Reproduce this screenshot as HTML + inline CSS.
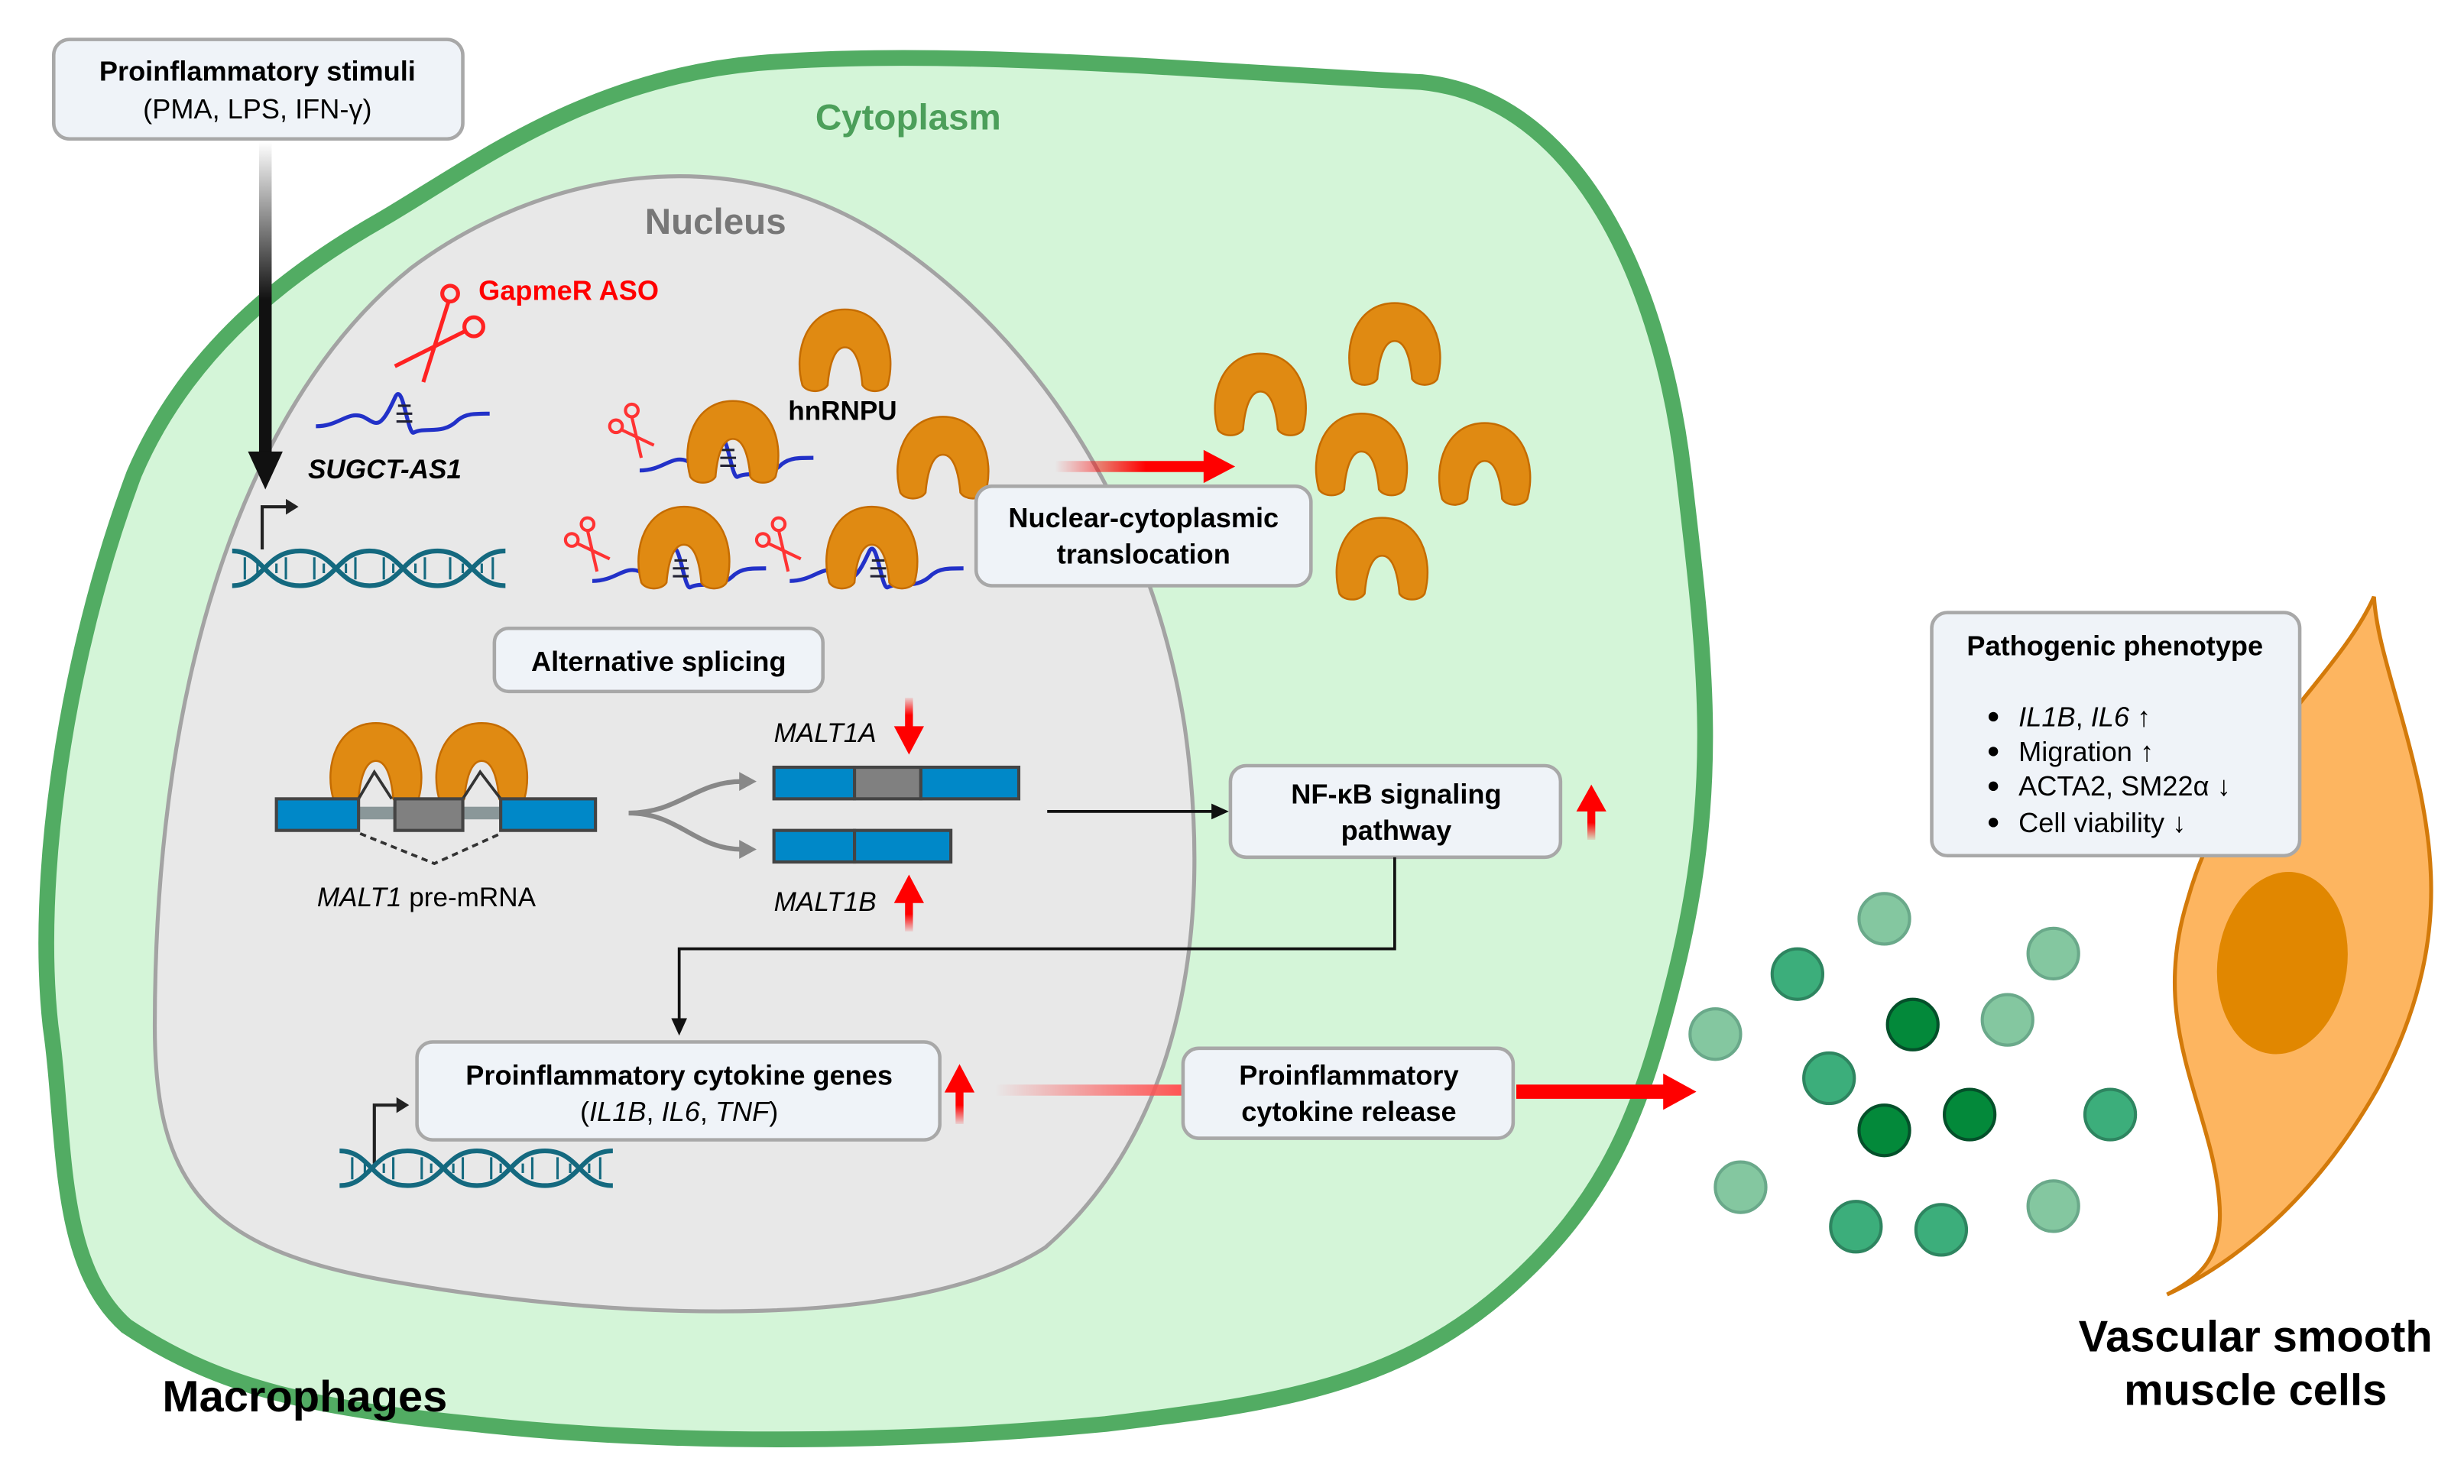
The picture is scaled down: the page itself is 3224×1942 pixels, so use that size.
<!DOCTYPE html>
<html><head><meta charset="utf-8"><style>
html,body{margin:0;padding:0;background:#fff;}
svg{display:block;}
text{font-family:"Liberation Sans",sans-serif;}
</style></head><body>
<svg width="3224" height="1942" viewBox="0 0 1560 940" preserveAspectRatio="none" xmlns="http://www.w3.org/2000/svg">
<defs>
<linearGradient id="gv" x1="0" y1="0" x2="0" y2="1"><stop offset="0" stop-color="#fff"/><stop offset="0.5" stop-color="#111"/><stop offset="1" stop-color="#111"/></linearGradient>
<linearGradient id="gr" x1="0" y1="0" x2="1" y2="0"><stop offset="0" stop-color="#f00" stop-opacity="0"/><stop offset="0.6" stop-color="#f00"/><stop offset="1" stop-color="#f00"/></linearGradient>
<linearGradient id="gr2" x1="0" y1="0" x2="1" y2="0"><stop offset="0" stop-color="#f44" stop-opacity="0"/><stop offset="1" stop-color="#f55"/></linearGradient>
<linearGradient id="gup" x1="0" y1="1" x2="0" y2="0"><stop offset="0" stop-color="#f00" stop-opacity="0.1"/><stop offset="0.5" stop-color="#f00"/></linearGradient>
<linearGradient id="gdn" x1="0" y1="0" x2="0" y2="1"><stop offset="0" stop-color="#f00" stop-opacity="0.1"/><stop offset="0.5" stop-color="#f00"/></linearGradient>
<g id="prot"><path d="M-27,22 C-33,0 -24,-26 0,-26 C24,-26 33,0 27,22 C24,27 14,27 11,22 C10,10 7,-2 0,-2 C-7,-2 -10,10 -11,22 C-14,27 -24,27 -27,22 Z" fill="#e08a12" stroke="#c56c00" stroke-width="1.2"/></g>
<g id="dna" fill="none" stroke="#14697f" stroke-width="3">
<path d="M0,0 C20,0 20,22 43,22 C66,22 66,0 87,0 C108,0 108,22 130,22 C152,22 152,0 173,0"/>
<path d="M0,22 C20,22 20,0 43,0 C66,0 66,22 87,22 C108,22 108,0 130,0 C152,0 152,22 173,22"/>
<path d="M8,4 V18 M16,8 V14 M28,8 V14 M34,4 V18 M52,4 V18 M58,8 V14 M72,8 V14 M78,4 V18 M96,4 V18 M102,8 V14 M116,8 V14 M122,4 V18 M138,4 V18 M146,8 V14 M158,8 V14 M165,4 V18" stroke-width="1.5"/>
</g>
<g id="scis" fill="none" stroke="#f33" stroke-width="2"><circle cx="0" cy="-20" r="4"/><circle cx="-10" cy="-10" r="4"/><path d="M0,-16 L6,10 M-7,-8 L14,2"/></g>
<g id="rna" fill="none"><path d="M0,8 C15,8 20,-2 30,2 C38,6 40,12 50,-10 C55,-22 58,14 62,12 C70,8 80,14 90,4 C95,0 100,0 110,0" stroke="#2231c8" stroke-width="2.5"/><path d="M52,-5 H60 M51,0 H61 M51,5 H61" stroke="#223" stroke-width="1.5"/></g>
</defs>

<!-- cell -->
<path d="M32,650 C22,560 40,420 85,300 C115,230 170,180 240,140 C300,105 370,50 480,40 C600,30 760,45 900,52 C1000,62 1052,180 1066,300 C1080,420 1090,500 1060,620 C1040,700 1020,760 950,820 C880,880 800,890 700,902 C560,915 420,915 300,902 C200,892 140,880 80,840 C35,800 42,720 32,650 Z" fill="#d4f5d8" stroke="#52ac63" stroke-width="10"/>
<!-- nucleus -->
<path d="M98,650 C98,420 160,250 260,170 C340,110 460,85 560,150 C660,215 730,330 750,460 C770,600 742,720 662,790 C582,842 400,838 250,812 C130,792 98,750 98,650 Z" fill="#e8e8e8" stroke="#a3a3a3" stroke-width="2.5"/>

<text x="575" y="82" font-size="23" font-weight="bold" fill="#4c9f5a" text-anchor="middle">Cytoplasm</text>
<text x="453" y="148" font-size="23" font-weight="bold" fill="#777" text-anchor="middle">Nucleus</text>

<!-- stimuli arrow -->
<rect x="164" y="90" width="8" height="200" fill="url(#gv)"/>
<path d="M157,286 L179,286 L168,310 Z" fill="#111"/>

<rect x="34" y="25" width="259" height="63" rx="10" fill="#eff3f8" stroke="#a8a8a8" stroke-width="2.2"/>
<text x="163" y="51" font-size="17.5" font-weight="bold" text-anchor="middle">Proinflammatory stimuli</text>
<text x="163" y="75" font-size="17.5" text-anchor="middle">(PMA, LPS, IFN-γ)</text>

<!-- GapmeR -->
<text x="303" y="190" font-size="17.5" font-weight="bold" fill="#f00">GapmeR ASO</text>
<g fill="none" stroke="#f22" stroke-width="2.5"><circle cx="285" cy="186" r="5"/><circle cx="300" cy="207" r="6"/><path d="M284,191 L268,242 M294,210 L250,232"/></g>
<use href="#rna" x="200" y="262"/>
<text x="195" y="303" font-size="17" font-weight="bold" font-style="italic">SUGCT-AS1</text>
<path d="M166,348 V321 H182" fill="none" stroke="#222" stroke-width="2"/><path d="M181,316 L189,321 L181,326 Z" fill="#222"/>
<use href="#dna" x="147" y="349"/>

<!-- nuclear proteins -->
<use href="#rna" x="405" y="290"/><use href="#scis" x="400" y="280"/>
<use href="#prot" x="535" y="222"/>
<use href="#prot" x="464" y="280"/>
<use href="#prot" x="597" y="290"/>
<text x="499" y="266" font-size="17" font-weight="bold">hnRNPU</text>
<use href="#rna" x="375" y="360"/><use href="#scis" x="372" y="352"/><use href="#prot" x="433" y="347"/>
<use href="#rna" x="500" y="360"/><use href="#scis" x="493" y="352"/><use href="#prot" x="552" y="347"/>

<!-- translocation arrow -->
<rect x="668" y="292" width="96" height="7" fill="url(#gr)"/><path d="M762,285 L782,295.5 L762,306 Z" fill="#f00"/>
<use href="#prot" x="798" y="250"/><use href="#prot" x="883" y="218"/><use href="#prot" x="862" y="288"/><use href="#prot" x="940" y="294"/><use href="#prot" x="875" y="354"/>

<rect x="618" y="308" width="212" height="63" rx="10" fill="#eff3f8" stroke="#a8a8a8" stroke-width="2.2"/>
<text x="724" y="334" font-size="17.5" font-weight="bold" text-anchor="middle">Nuclear-cytoplasmic</text>
<text x="724" y="357" font-size="17.5" font-weight="bold" text-anchor="middle">translocation</text>

<rect x="313" y="398" width="208" height="40" rx="9" fill="#eff3f8" stroke="#a8a8a8" stroke-width="2.2"/>
<text x="417" y="425" font-size="17.5" font-weight="bold" text-anchor="middle">Alternative splicing</text>

<!-- splicing -->
<rect x="227" y="511" width="90" height="8" fill="#8a9799"/>
<use href="#prot" x="238" y="484"/><use href="#prot" x="305" y="484"/>
<path d="M227,506 L237,489 L248,506 M293,506 L304,489 L317,506" fill="none" stroke="#333" stroke-width="1.8"/>
<rect x="175" y="506" width="52" height="20" fill="#0088c8" stroke="#444" stroke-width="2"/>
<rect x="250" y="506" width="43" height="20" fill="#808080" stroke="#444" stroke-width="2"/>
<rect x="317" y="506" width="60" height="20" fill="#0088c8" stroke="#444" stroke-width="2"/>
<path d="M228,528 L275,547 L317,528" fill="none" stroke="#333" stroke-width="1.8" stroke-dasharray="4,3"/>
<text x="270" y="574" font-size="17" text-anchor="middle"><tspan font-style="italic">MALT1</tspan> pre-mRNA</text>
<path d="M398,515 C430,515 440,495 470,495 M398,515 C430,515 440,538 470,538" fill="none" stroke="#888" stroke-width="3"/>
<path d="M468,489 L479,495 L468,501 Z M468,532 L479,538 L468,544 Z" fill="#888"/>
<rect x="490" y="486" width="51" height="20" fill="#0088c8" stroke="#444" stroke-width="2"/>
<rect x="541" y="486" width="42" height="20" fill="#808080" stroke="#444" stroke-width="2"/>
<rect x="583" y="486" width="62" height="20" fill="#0088c8" stroke="#444" stroke-width="2"/>
<rect x="490" y="526" width="51" height="20" fill="#0088c8" stroke="#444" stroke-width="2"/>
<rect x="541" y="526" width="61" height="20" fill="#0088c8" stroke="#444" stroke-width="2"/>
<text x="490" y="470" font-size="17" font-style="italic">MALT1A</text>
<text x="490" y="577" font-size="17" font-style="italic">MALT1B</text>
<rect x="573" y="442" width="5" height="22" fill="url(#gdn)"/><path d="M566,460 L585,460 L575.5,478 Z" fill="#f00"/>
<rect x="573" y="568" width="5" height="22" fill="url(#gup)"/><path d="M566,572 L585,572 L575.5,554 Z" fill="#f00"/>

<path d="M663,514 H768" stroke="#111" stroke-width="1.8"/><path d="M767,509 L778,514 L767,519 Z" fill="#111"/>
<rect x="779" y="485" width="209" height="58" rx="10" fill="#eff3f8" stroke="#a8a8a8" stroke-width="2.2"/>
<text x="884" y="509" font-size="17.5" font-weight="bold" text-anchor="middle">NF-κB signaling</text>
<text x="884" y="532" font-size="17.5" font-weight="bold" text-anchor="middle">pathway</text>
<rect x="1005" y="510" width="5" height="22" fill="url(#gup)"/><path d="M998,514 L1017,514 L1007.5,497 Z" fill="#f00"/>

<path d="M883,543 V601 H430 V646" fill="none" stroke="#111" stroke-width="1.8"/><path d="M425,645 L435,645 L430,656 Z" fill="#111"/>

<rect x="264" y="660" width="331" height="62" rx="10" fill="#eff3f8" stroke="#a8a8a8" stroke-width="2.2"/>
<text x="430" y="687" font-size="17.5" font-weight="bold" text-anchor="middle">Proinflammatory cytokine genes</text>
<text x="430" y="710" font-size="17.5" text-anchor="middle">(<tspan font-style="italic">IL1B</tspan>, <tspan font-style="italic">IL6</tspan>, <tspan font-style="italic">TNF</tspan>)</text>
<rect x="605" y="688" width="5" height="24" fill="url(#gup)"/><path d="M598,692 L617,692 L607.5,674 Z" fill="#f00"/>
<path d="M237,737 V700 H252" fill="none" stroke="#222" stroke-width="2"/><path d="M251,695 L259,700 L251,705 Z" fill="#222"/>
<use href="#dna" x="215" y="729"/>

<rect x="630" y="687" width="118" height="7" fill="url(#gr2)"/>
<rect x="749" y="664" width="209" height="57" rx="10" fill="#eff3f8" stroke="#a8a8a8" stroke-width="2.2"/>
<text x="854" y="687" font-size="17.5" font-weight="bold" text-anchor="middle">Proinflammatory</text>
<text x="854" y="710" font-size="17.5" font-weight="bold" text-anchor="middle">cytokine release</text>
<rect x="960" y="687" width="96" height="9" fill="#f00"/><path d="M1053,680 L1074,691.5 L1053,703 Z" fill="#f00"/>

<!-- spheres -->
<g stroke-width="2">
<g fill="#84c7a0" stroke="#6aa98a"><circle cx="1193" cy="582" r="16"/><circle cx="1300" cy="604" r="16"/><circle cx="1086" cy="655" r="16"/><circle cx="1271" cy="646" r="16"/><circle cx="1102" cy="752" r="16"/><circle cx="1300" cy="764" r="16"/></g>
<g fill="#3cae7b" stroke="#2e8560"><circle cx="1138" cy="617" r="16"/><circle cx="1158" cy="683" r="16"/><circle cx="1336" cy="706" r="16"/><circle cx="1175" cy="777" r="16"/><circle cx="1229" cy="779" r="16"/></g>
<g fill="#03893a" stroke="#04502a"><circle cx="1211" cy="649" r="16"/><circle cx="1193" cy="716" r="16"/><circle cx="1247" cy="706" r="16"/></g>
</g>

<!-- VSMC -->
<path d="M1503,378 C1480,430 1410,480 1385,570 C1360,650 1400,700 1405,760 C1408,795 1395,808 1372,820 C1415,800 1465,760 1505,690 C1548,610 1542,550 1532,500 C1520,445 1505,410 1503,378 Z" fill="#fdb560" stroke="#d37a0a" stroke-width="2.5"/>
<ellipse cx="1445" cy="610" rx="41" ry="58" fill="#e18700" transform="rotate(8 1445 610)"/>

<rect x="1223" y="388" width="233" height="154" rx="10" fill="#eff3f8" stroke="#a8a8a8" stroke-width="2.2"/>
<text x="1339" y="415" font-size="17.5" font-weight="bold" text-anchor="middle">Pathogenic phenotype</text>
<g font-size="17.5"><circle cx="1262" cy="454" r="3"/><circle cx="1262" cy="476" r="3"/><circle cx="1262" cy="498" r="3"/><circle cx="1262" cy="521" r="3"/>
<text x="1278" y="460"><tspan font-style="italic">IL1B</tspan>, <tspan font-style="italic">IL6</tspan> ↑</text>
<text x="1278" y="482">Migration ↑</text>
<text x="1278" y="504">ACTA2, SM22α ↓</text>
<text x="1278" y="527">Cell viability ↓</text></g>

<text x="1428" y="856" font-size="28" font-weight="bold" text-anchor="middle">Vascular smooth</text>
<text x="1428" y="890" font-size="28" font-weight="bold" text-anchor="middle">muscle cells</text>
<text x="193" y="894" font-size="28" font-weight="bold" text-anchor="middle">Macrophages</text>
</svg>
</body></html>
